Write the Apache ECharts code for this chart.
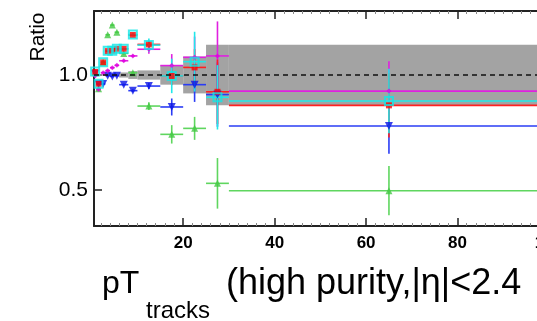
<!DOCTYPE html>
<html>
<head>
<meta charset="utf-8">
<script src="https://cdn.jsdelivr.net/npm/echarts@6/dist/echarts.min.js"></script>
<style>
  html, body { margin: 0; padding: 0; background: #ffffff; }
  #chart { width: 537px; height: 321px; }
</style>
</head>
<body>
<div id="chart"></div>
<script>
// pT bins (GeV)
const binLow  = [0.5, 1, 2, 3, 4, 5, 6, 8, 10, 15, 20, 25, 30];
const binHigh = [1, 2, 3, 4, 5, 6, 8, 10, 15, 20, 25, 30, 100];

// systematic uncertainty band around unity (half-width)
const systBand = [0.003, 0.003, 0.003, 0.003, 0.003, 0.003, 0.011, 0.017, 0.02, 0.042, 0.08, 0.132, 0.132];

// ratios per sample and their statistical errors
const greenRatio   = [1.010, 0.940, 1.055, 1.175, 1.217, 1.186, 1.094, 1.010, 0.865, 0.742, 0.768, 0.529, 0.497];
const greenErr     = [0.003, 0.003, 0.003, 0.004, 0.004, 0.004, 0.005, 0.006, 0.017, 0.040, 0.050, 0.110, 0.107];
const blueRatio    = [1.005, 0.960, 0.961, 0.997, 0.994, 0.997, 0.958, 0.932, 0.952, 0.861, 0.958, 0.915, 0.778];
const blueErr      = [0.002, 0.002, 0.002, 0.002, 0.003, 0.003, 0.004, 0.006, 0.013, 0.037, 0.075, 0.140, 0.120];
const magentaRatio = [0.996, 0.937, 1.010, 1.019, 1.032, 1.042, 1.062, 1.083, 1.112, 1.041, 1.077, 1.083, 0.930];
const magentaErr   = [0.002, 0.002, 0.002, 0.003, 0.003, 0.003, 0.004, 0.005, 0.020, 0.050, 0.090, 0.150, 0.130];
const redRatio     = [1.013, 0.962, 1.055, 1.104, 1.106, 1.114, 1.114, 1.174, 1.133, 0.996, 1.033, 0.927, 0.868];
const redErr       = [0.002, 0.002, 0.002, 0.003, 0.003, 0.003, 0.004, 0.005, 0.015, 0.040, 0.080, 0.140, 0.140];
const cyanRatio    = [1.015, 0.962, 1.055, 1.106, 1.106, 1.114, 1.114, 1.176, 1.130, 0.996, 1.058, 0.903, 0.887];
const cyanErr      = [0.002, 0.002, 0.002, 0.003, 0.003, 0.003, 0.004, 0.005, 0.029, 0.075, 0.130, 0.140, 0.140];

// axis ticks
const xMajorTicks = [20, 40, 60, 80, 100];
const xMinorTicks = [];
for (let v = 2; v < 100; v += 2) if (v % 20 !== 0) xMinorTicks.push(v);
const yMajorTicks = [0.5, 1.0];

const FONT = '"Liberation Sans", Arial, Helvetica, sans-serif';
const binCenter = binLow.map((lo, i) => (lo + binHigh[i]) / 2);

function errorBars(name, vals, errs, color) {
  return {
    name: name + ' errors',
    type: 'custom',
    xAxisIndex: 0, yAxisIndex: 0,
    silent: true,
    encode: { x: 0, y: 1 },
    data: vals.map((v, i) => [binCenter[i], v, errs[i], binLow[i], binHigh[i]]),
    renderItem(params, api) {
      const x = api.value(0), y = api.value(1), e = api.value(2);
      const lo = api.value(3), hi = api.value(4);
      const pL = api.coord([lo, y]), pH = api.coord([hi, y]);
      const pT = api.coord([x, y + e]), pB = api.coord([x, y - e]);
      return {
        type: 'group',
        children: [
          { type: 'line', shape: { x1: pL[0], y1: pL[1], x2: pH[0], y2: pH[1] },
            style: { stroke: color, lineWidth: 1.6 } },
          { type: 'line', shape: { x1: pT[0], y1: pT[1], x2: pB[0], y2: pB[1] },
            style: { stroke: color, lineWidth: 1.6 } }
        ]
      };
    }
  };
}

function markers(name, vals, symbol, size, style, rotate) {
  return {
    name: name,
    type: 'scatter',
    xAxisIndex: 0, yAxisIndex: 0,
    silent: true,
    symbol: symbol,
    symbolSize: size,
    symbolRotate: rotate || 0,
    itemStyle: style,
    data: vals.map((v, i) => [binCenter[i], v])
  };
}

const chart = echarts.init(document.getElementById('chart'), null, { renderer: 'canvas' });

const xAxisBase = {
  type: 'value', min: 0.5, max: 100, gridIndex: 0,
  splitLine: { show: false }
};

chart.setOption({
  animation: false,
  backgroundColor: '#ffffff',
  grid: { left: 94, top: 11, right: -12, height: 215, containLabel: false, outerBoundsMode: 'none' },
  xAxis: [
    Object.assign({}, xAxisBase, {
      position: 'bottom',
      axisLine: { show: true, onZero: false, lineStyle: { color: '#222', width: 2 } },
      axisTick: { show: true, inside: true, length: 8, customValues: xMajorTicks,
                  lineStyle: { color: '#222', width: 1.5 } },
      axisLabel: { show: true, customValues: xMajorTicks, margin: 9, color: '#000',
                   fontSize: 17, fontWeight: 'bold', fontFamily: FONT }
    }),
    Object.assign({}, xAxisBase, {
      position: 'bottom',
      axisLine: { show: false, onZero: false },
      axisTick: { show: true, inside: true, length: 3, customValues: xMinorTicks,
                  lineStyle: { color: '#888', width: 1 } },
      axisLabel: { show: false }
    }),
    Object.assign({}, xAxisBase, {
      position: 'top',
      axisLine: { show: true, onZero: false, lineStyle: { color: '#222', width: 2 } },
      axisTick: { show: true, inside: true, length: 8, customValues: xMajorTicks,
                  lineStyle: { color: '#222', width: 1.5 } },
      axisLabel: { show: false }
    }),
    Object.assign({}, xAxisBase, {
      position: 'top',
      axisLine: { show: false, onZero: false },
      axisTick: { show: true, inside: true, length: 3, customValues: xMinorTicks,
                  lineStyle: { color: '#888', width: 1 } },
      axisLabel: { show: false }
    })
  ],
  yAxis: [{
    type: 'value', min: 0.3435, max: 1.2783, position: 'left',
    splitLine: { show: false },
    axisLine: { show: true, onZero: false, lineStyle: { color: '#222', width: 2 } },
    axisTick: { show: true, inside: true, length: 8, customValues: yMajorTicks,
                lineStyle: { color: '#222', width: 1.5 } },
    axisLabel: { show: true, customValues: yMajorTicks, margin: 6, color: '#000',
                 fontSize: 21, fontFamily: FONT, formatter: v => v.toFixed(1) }
  }],
  graphic: [
    { type: 'text', x: 38, y: 37, rotation: Math.PI / 2,
      style: { text: 'Ratio', fontSize: 21, fontFamily: FONT, fill: '#000',
               align: 'center', verticalAlign: 'middle',
               textAlign: 'center', textVerticalAlign: 'middle' } },
    { type: 'text', x: 102, y: 284.5,
      style: { text: 'pT', fontSize: 32, fontFamily: FONT, fill: '#000',
               align: 'left', verticalAlign: 'middle',
               textAlign: 'left', textVerticalAlign: 'middle' } },
    { type: 'text', x: 146, y: 311.5,
      style: { text: 'tracks', fontSize: 24, fontFamily: FONT, fill: '#000',
               align: 'left', verticalAlign: 'middle',
               textAlign: 'left', textVerticalAlign: 'middle' } },
    { type: 'text', x: 226, y: 284.5,
      style: { text: '(high purity,|η|<2.4', fontSize: 36, fontFamily: FONT, fill: '#000',
               align: 'left', verticalAlign: 'middle',
               textAlign: 'left', textVerticalAlign: 'middle' } }
  ],
  series: [
    {
      name: 'syst',
      type: 'custom',
      xAxisIndex: 0, yAxisIndex: 0,
      silent: true,
      encode: { x: 0, y: 1 },
      data: systBand.map((s, i) => [binLow[i], 1 - s, binHigh[i], 1 + s]),
      renderItem(params, api) {
        const p0 = api.coord([api.value(0), api.value(3)]);
        const p1 = api.coord([api.value(2), api.value(1)]);
        return {
          type: 'rect',
          shape: { x: p0[0], y: p0[1], width: p1[0] - p0[0], height: p1[1] - p0[1] },
          style: { fill: '#a3a3a3' }
        };
      }
    },
    {
      name: 'unity',
      type: 'line',
      xAxisIndex: 0, yAxisIndex: 0,
      silent: true,
      symbol: 'none',
      lineStyle: { color: '#111', width: 1.3, type: [5, 4] },
      data: [[0.5, 1], [100, 1]]
    },
    errorBars('green', greenRatio, greenErr, '#5fd65f'),
    errorBars('blue', blueRatio, blueErr, '#2a3cf5'),
    errorBars('magenta', magentaRatio, magentaErr, '#e020e0'),
    errorBars('red', redRatio, redErr, '#ff2020'),
    errorBars('cyan', cyanRatio, cyanErr, '#20e8e8'),
    markers('green', greenRatio, 'triangle', 7, { color: '#44c844' }),
    markers('blue', blueRatio, 'triangle', 8, { color: '#0a14e6' }, 180),
    markers('magenta', magentaRatio, 'diamond', 5, { color: '#e000e0' }),
    markers('red', redRatio, 'rect', 6, { color: '#ff0000' }),
    markers('cyan', cyanRatio, 'rect', 8,
            { color: 'rgba(0,0,0,0)', borderColor: '#10e6e6', borderWidth: 2 })
  ]
});
</script>
</body>
</html>
